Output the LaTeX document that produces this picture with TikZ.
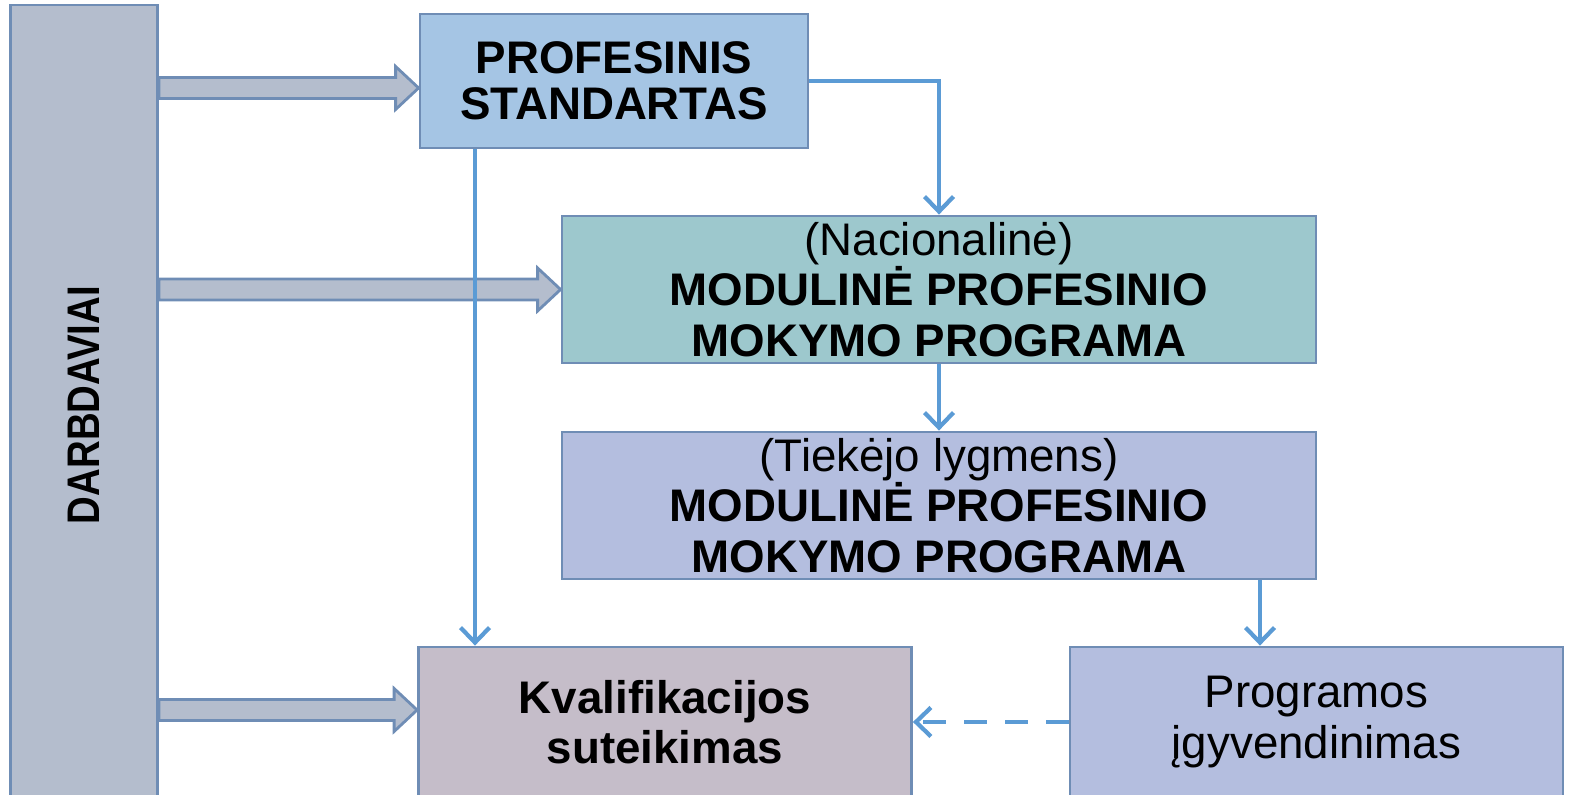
\documentclass[tikz,border=0pt]{standalone}
\usepackage{fontspec}
\setmainfont{Liberation Sans}
\usetikzlibrary{calc,positioning,arrows.meta}
\definecolor{boxline}{HTML}{6F8DB5}
\definecolor{darbfill}{HTML}{B4BDCD}
\definecolor{proffill}{HTML}{A5C5E4}
\definecolor{nacfill}{HTML}{9DC8CD}
\definecolor{tiekfill}{HTML}{B4BEDF}
\definecolor{kvalfill}{HTML}{C5BDC9}
\definecolor{arrowblue}{HTML}{5B9BD5}

\tikzset{
  box/.style={draw=boxline, thick, align=center, inner sep=0pt,
    font=\fontsize{13}{14.3}\selectfont},
  thinarrow/.style={arrowblue, line width=1.2pt,
    -{Straight Barb[length=1.5mm,width=2.9mm]}},
  blockarrow/.style={draw=boxline, fill=darbfill, thick, line join=miter},
}
% block arrow from #1 (start) to the x of #2 (tip)
\newcommand{\blockarrow}[2]{%
  \draw[blockarrow] let \p1=(#1), \p2=(#2) in
    (\x1,\y1+1.05mm) -- (\x2-2.3mm,\y1+1.05mm) -- (\x2-2.3mm,\y1+2.15mm)
    -- (\x2,\y1) -- (\x2-2.3mm,\y1-2.15mm) -- (\x2-2.3mm,\y1-1.05mm)
    -- (\x1,\y1-1.05mm) -- cycle;}

\begin{document}
\begin{tikzpicture}
  \useasboundingbox (0,0) rectangle (15.71,7.95);
  \clip (0,0) rectangle (15.71,7.95);

  % employers
  \node [box, fill=darbfill, minimum width=1.47cm, minimum height=8cm]
    (darb) at (0.84,3.90)
    {\rotatebox{90}{\scalebox{0.84}[1]{\bfseries DARBDAVIAI}}};

  % standard and programmes
  \node [box, fill=proffill, minimum width=3.88cm, minimum height=1.34cm,
    font=\fontsize{13}{13.1}\selectfont\bfseries]
    (prof) at (6.14,7.14) {PROFESINIS\\STANDARTAS};
  \node [box, fill=nacfill, minimum width=7.54cm, minimum height=1.47cm,
    font=\fontsize{13}{14.3}\selectfont]
    (nac) at (9.39,5.055)
    {(Nacionalinė)\\\textbf{MODULINĖ PROFESINIO}\\\textbf{MOKYMO PROGRAMA}};
  \node [box, fill=tiekfill, minimum width=7.54cm, minimum height=1.47cm]
    (tiek) at (9.39,2.895)
    {(Tiekėjo lygmens)\\\textbf{MODULINĖ PROFESINIO}\\\textbf{MOKYMO PROGRAMA}};

  % bottom row
  \node [box, fill=kvalfill, minimum width=4.93cm, minimum height=1.50cm,
    font=\fontsize{13}{14.3}\selectfont\bfseries]
    (kval) at (6.65,0.73) {Kvalifikacijos\\suteikimas};
  \node [box, fill=tiekfill, minimum width=4.93cm, minimum height=1.50cm]
    (prog) at (13.165,0.73) {Programos\\įgyvendinimas};

  % block arrows from employers
  \coordinate (a1) at ($(darb.east |- prof.west)+(0,-0.07)$);
  \coordinate (a2) at (darb.east |- nac.west);
  \coordinate (a3) at ($(darb.east |- kval.west)+(0,0.12)$);
  \blockarrow{a1}{prof.west}
  \blockarrow{a2}{nac.west}
  \blockarrow{a3}{kval.west}

  % thin connectors
  \coordinate (col1) at (4.75,0);
  \coordinate (col2) at (12.60,0);
  \draw [thinarrow] (prof.east) -| (nac.north);
  \draw [thinarrow] (nac.south) -- (tiek.north);
  \draw [thinarrow] (prof.south -| col1) -- (kval.north -| col1);
  \draw [thinarrow] (tiek.south -| col2) -- (prog.north -| col2);
  \draw [thinarrow, dash pattern=on 2.3mm off 1.8mm] (prog.west) -- (kval.east);
\end{tikzpicture}
\end{document}
